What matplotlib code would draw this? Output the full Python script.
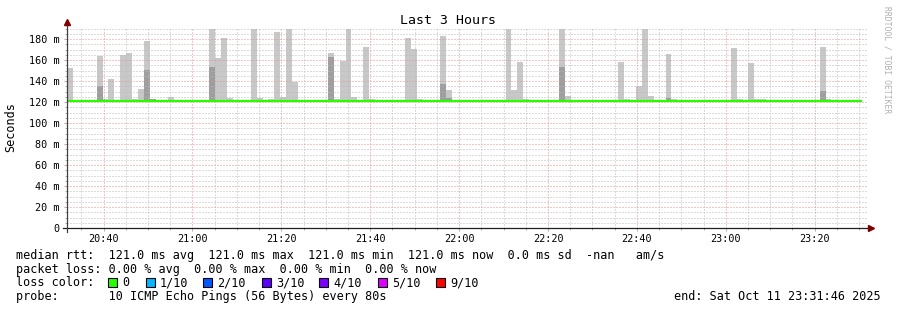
import matplotlib
matplotlib.use("Agg")
import matplotlib.pyplot as plt
import matplotlib.dates as mdates
from matplotlib.patches import Rectangle
from matplotlib.ticker import FuncFormatter, MultipleLocator
import numpy as np
from datetime import datetime, timedelta

W, H = 897, 310
mono = "DejaVu Sans Mono"

# smokeping step data (80 s steps, values in ms)
t_start = datetime(2025, 10, 11, 20, 31, 46)
step_s = 80
n_steps = 135
median_ms = [121.0] * 134 + [np.nan]

smoke_idx = [0, 5, 6, 7, 9, 10, 11, 12, 13, 14, 17, 24, 25, 26, 27, 31, 32, 34, 35, 36,
             37, 38, 44, 45, 46, 47, 48, 50, 51, 57, 58, 59, 63, 64, 74, 75, 76, 77, 83, 84,
             93, 94, 96, 97, 98, 101, 102, 112, 113, 115, 116, 117, 127, 128]
smoke_top = [152, 164, 123, 142, 165, 166.5, 123, 132, 178, 123.3, 125, 192, 161.5, 181, 123.5, 189.5, 123.5, 122.6, 186.7, 124.5,
             192, 139, 166.5, 122.6, 159, 192, 124.5, 172.5, 122.6, 181, 170.4, 122.6, 183, 131, 192, 131, 158, 122.6, 192, 125.5,
             158, 122.6, 135, 192, 125.5, 165.6, 122.6, 171.4, 122.6, 157, 122.6, 122.6, 172.3, 122.6]
core_idx = [5, 13, 14, 24, 44, 63, 64, 83, 101, 127]
core_top = [135, 150, 122.5, 153, 162.5, 137, 123.5, 153, 123.5, 130.3]

loss_labels = ["0", "1/10", "2/10", "3/10", "4/10", "5/10", "9/10"]
loss_colors = ["#26ff00", "#00b8ff", "#0059ff", "#5e00ff", "#7e00ff", "#dd00ff", "#ff0000"]
loss_box_x = [108, 146, 203, 262, 319, 378, 436]

legend_lines = [
    "median rtt:  121.0 ms avg  121.0 ms max  121.0 ms min  121.0 ms now  0.0 ms sd  -nan   am/s",
    "packet loss: 0.00 % avg  0.00 % max  0.00 % min  0.00 % now",
    "loss color:",
    "probe:       10 ICMP Echo Pings (56 Bytes) every 80s",
]
end_text = "end: Sat Oct 11 23:31:46 2025"

edges = mdates.date2num([t_start + timedelta(seconds=step_s * i) for i in range(n_steps + 1)])
width = step_s / 86400.0

fig = plt.figure(figsize=(W / 100, H / 100), dpi=100)
fig.patch.set_facecolor("white")
ax = fig.add_axes([67 / W, 82 / H, 800 / W, 199.5 / H])

base = 121.0
ax.bar(edges[smoke_idx], np.array(smoke_top) - base, width=width, bottom=base, align="edge",
       color="#c8c8c8", linewidth=0, zorder=1)
ax.bar(edges[core_idx], np.array(core_top) - base, width=width, bottom=base, align="edge",
       color="#9e9e9e", linewidth=0, zorder=1.1)

med = np.array(median_ms)
ax.plot(edges, np.append(med, med[-1]), drawstyle="steps-post", color="#26ff00", lw=1.6, zorder=3)

ax.set_xlim(edges[0], edges[-1])
ax.set_ylim(0, 190)

ax.xaxis.set_major_locator(mdates.MinuteLocator(byminute=[0, 20, 40]))
ax.xaxis.set_minor_locator(mdates.MinuteLocator(byminute=range(0, 60, 5)))
ax.xaxis.set_major_formatter(mdates.DateFormatter("%H:%M"))
ax.yaxis.set_major_locator(MultipleLocator(20))
ax.yaxis.set_minor_locator(MultipleLocator(5))
ax.yaxis.set_major_formatter(FuncFormatter(lambda v, p: "0" if v == 0 else f"{v:.0f} m"))

ax.set_axisbelow(False)
ax.grid(which="minor", color="#bababa", linestyle=(0, (1, 2)), lw=0.72)
ax.grid(which="major", color="#ec8e8e", linestyle=(0, (1, 2)), lw=0.72)

for sp in ax.spines.values():
    sp.set_visible(False)
ax.tick_params(which="both", direction="out", color="#a0a0a0", width=0.6)
ax.tick_params(which="major", length=2)
ax.tick_params(which="minor", length=1.5)
ax.tick_params(axis="x", which="major", pad=2.3, labelsize=7.3)
ax.tick_params(axis="y", which="major", pad=3.5, labelsize=7.3)
for lbl in ax.get_xticklabels() + ax.get_yticklabels():
    lbl.set_family(mono)

# axis lines with arrows
ax.plot([-4 / 800, 803 / 800], [0, 0], transform=ax.transAxes, color="#202020", lw=0.9, clip_on=False, zorder=4)
ax.plot([0, 0], [-4 / 199.5, 205 / 199.5], transform=ax.transAxes, color="#404040", lw=0.9, clip_on=False, zorder=4)
ax.plot([0], [206 / 199.5], marker="^", ms=4.5, color="#7f0000", transform=ax.transAxes, clip_on=False, zorder=5)
ax.plot([804 / 800], [0], marker=">", ms=4.5, color="#7f0000", transform=ax.transAxes, clip_on=False, zorder=5)

def fx(px):
    return px / W

def fy(py):
    return 1 - py / H

fig.text(fx(448), fy(24), "Last 3 Hours", ha="center", va="baseline", fontsize=9.5, family=mono)
fig.text(fx(11), fy(127), "Seconds", ha="center", va="center", rotation=90, fontsize=8.5, family=mono)
fig.text(fx(887), fy(60), "RRDTOOL / TOBI OETIKER", ha="center", va="center", rotation=-90,
         fontsize=5.8, family=mono, color="#b0b0b0")

baselines = [259, 272.7, 286.5, 300]
for line, b in zip(legend_lines, baselines):
    fig.text(fx(16), fy(b), line, ha="left", va="baseline", fontsize=8.5, family=mono)
fig.text(fx(881), fy(300), end_text, ha="right", va="baseline", fontsize=8.5, family=mono)

for bx, col, lab in zip(loss_box_x, loss_colors, loss_labels):
    fig.add_artist(Rectangle((fx(bx), fy(287)), 9 / W, 9 / H, transform=fig.transFigure,
                             facecolor=col, edgecolor="black", lw=0.8))
    fig.text(fx(bx + 14), fy(286.5), lab, ha="left", va="baseline", fontsize=8.5, family=mono)

fig.savefig("out.png", dpi=100)
